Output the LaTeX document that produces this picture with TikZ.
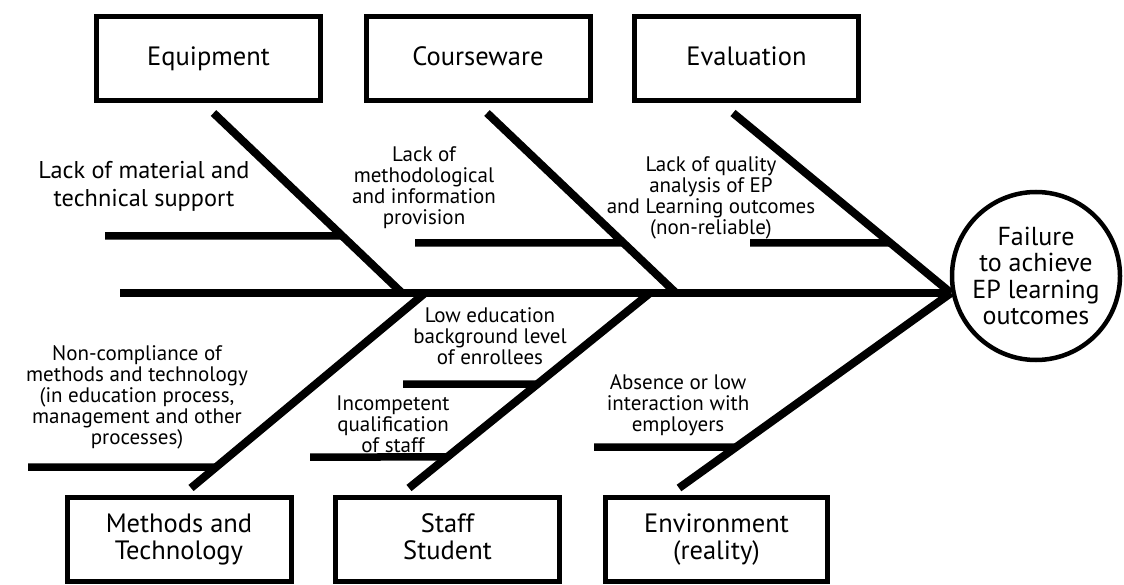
\documentclass[tikz,border=0pt]{standalone}
\usepackage{fontspec}
\setmainfont{PT Sans}
\usetikzlibrary{calc}
\begin{document}
\begin{tikzpicture}[x=1pt,y=-1pt,
  catbox/.style={draw, line width=5pt, inner sep=0pt, minimum width=224pt, minimum height=84pt, align=center, font=\fontsize{26.5}{26.7}\selectfont},
  bone/.style={line width=8pt},
  twig/.style={line width=7.5pt},
  lbl/.style={align=center, inner sep=0pt, font=\fontsize{21}{21}\selectfont},
  lblbig/.style={align=center, inner sep=0pt, font=\fontsize{24.3}{28}\selectfont}]
\useasboundingbox (0,0) rectangle (1124,585);
% category boxes
\node[catbox] (equip) at (208.5,58.5) {Equipment};
\node[catbox] (course) at (478,58.5) {Courseware\vphantom{p}};
\node[catbox] (eval) at (746.5,58.5) {Evaluation\vphantom{p}};
\node[catbox] (meth) at (179,539.5) {Methods and\\Technology};
\node[catbox] (staff) at (447.5,539.5) {Staff\\Student\vphantom{y}};
\node[catbox, minimum width=222pt] (env) at (716.5,539.5) {Environment\\(reality)};
% effect
\node[draw, circle, line width=4.5pt, minimum size=168pt, inner sep=0pt, align=center, font=\fontsize{26}{26.3}\selectfont] (goal) at (1036,276) {Failure\\to achieve\\EP learning\\outcomes};
% spine
\coordinate (tail) at (120,293);
\coordinate (head) at (951,293);
\draw[bone] (tail) -- (head);
% top bones
\coordinate (e1) at (213.5,113); \coordinate (e2) at (402,293);
\coordinate (c1) at (487,113);   \coordinate (c2) at (676,293);
\coordinate (v1) at (733,113);
\draw[bone] (e1) -- (e2);
\draw[bone] (c1) -- (c2);
\draw[bone] (v1) -- (head);
% bottom bones
\coordinate (m1) at (191,488); \coordinate (m2) at (425,293);
\coordinate (s1) at (409,488); \coordinate (s2) at (650,293);
\coordinate (n1) at (679,488);
\draw[bone] (m1) -- (m2);
\draw[bone] (s1) -- (s2);
\draw[bone] (n1) -- (head);
% twigs
\coordinate (et0) at (105,236); \coordinate (et1) at ($(e1)!0.683!(e2)$);
\coordinate (ct0) at (415,243); \coordinate (ct1) at ($(c1)!0.722!(c2)$);
\coordinate (vt0) at (750,243); \coordinate (vt1) at ($(v1)!0.722!(head)$);
\coordinate (mt0) at (28,467);  \coordinate (mt1) at ($(m1)!0.1077!(m2)$);
\coordinate (st0) at (403,384); \coordinate (st1) at ($(s1)!0.533!(s2)$);
\coordinate (su0) at (310,457); \coordinate (su1) at ($(s1)!0.159!(s2)$);
\coordinate (nt0) at (594,447); \coordinate (nt1) at ($(n1)!0.210!(head)$);
\draw[twig] (et0) -- (et1);
\draw[twig] (ct0) -- (ct1);
\draw[twig] (vt0) -- (vt1);
\draw[twig] (mt0) -- (mt1);
\draw[twig] (st0) -- (st1);
\draw[twig] (su0) -- (su1);
\draw[twig] (nt0) -- (nt1);
% labels
\node[lblbig] (l1) at (144,186) {Lack of material and\\technical support};
\node[lbl] (l2) at (424,188) {Lack of\\methodological\\and information\\provision};
\node[lbl] (l3) at (711,198) {Lack of quality\\analysis of EP\\and Learning outcomes\\(non-reliable)};
\node[lbl] (l4) at (137,397) {Non-compliance of\\methods and technology\\(in education process,\\management and other\\processes)};
\node[lbl] (l5) at (490,336) {Low education\\background level\\of enrollees};
\node[lbl] (l6) at (393,424) {Incompetent\\qualification\\of staff};
\node[lbl] (l7) at (678,405) {Absence or low\\interaction with\\employers};
\end{tikzpicture}
\end{document}
